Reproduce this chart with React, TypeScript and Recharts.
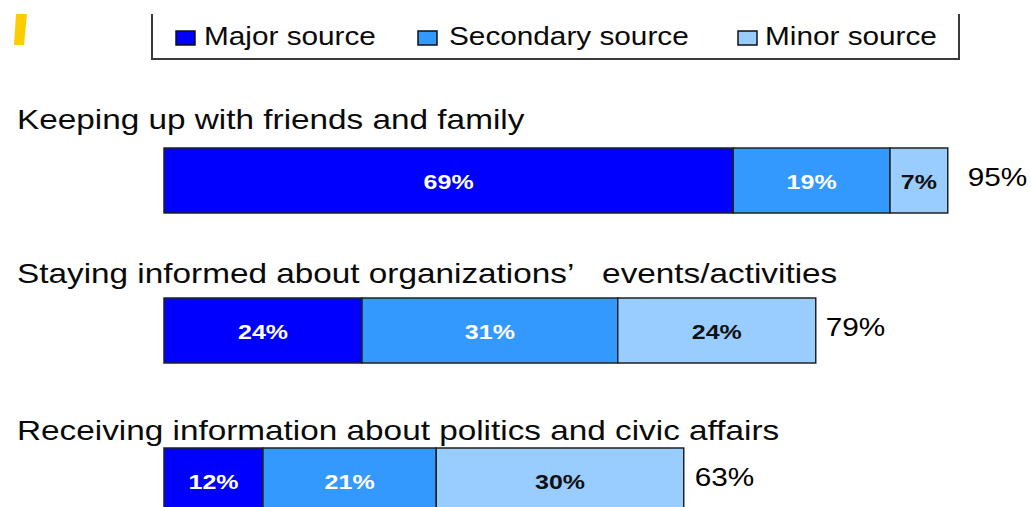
import React from 'react';
import { BarChart, Bar, XAxis, YAxis, Legend, LabelList } from 'recharts';

const categories = [
  'Keeping up with friends and family',
  'Staying informed about organizations\u2019\u00a0\u00a0 events/activities',
  'Receiving information about politics and civic affairs',
];
const majorValues = [69, 24, 12];
const secondaryValues = [19, 31, 21];
const minorValues = [7, 24, 30];
const totalLabels = ['95%', '79%', '63%'];
const seriesNames = ['Major source', 'Secondary source', 'Minor source'];

const rows = categories.map((name, i) => ({
  name,
  major: majorValues[i],
  secondary: secondaryValues[i],
  minor: minorValues[i],
  total: totalLabels[i],
}));

const COLORS = ['#0000FF', '#3399FF', '#99CCFF'];
const FONT = '"Liberation Sans", Arial, Helvetica, sans-serif';
const SX = 1.19;
const TITLE_DY = [-51, -47, -40];
const TOTAL_DX = [20, 10, 11];
const LEG_SQ_X = [176, 418, 738];
const LEG_TX_X = [204, 449, 765];

function StretchText(props: any) {
  const { x, y, size, weight, fill, anchor, children } = props;
  return (
    <g transform={`translate(${x},${y}) scale(${SX},1)`}>
      <text
        x={0}
        y={0}
        fontSize={size}
        fontWeight={weight || 'normal'}
        fill={fill || '#111'}
        textAnchor={anchor || 'start'}
        fontFamily={FONT}
      >
        {children}
      </text>
    </g>
  );
}

const TitleTick = (props: any) => {
  const { y, payload } = props;
  let idx = props.index;
  if (idx === undefined) idx = categories.indexOf(payload.value);
  return (
    <StretchText x={17} y={y + (TITLE_DY[idx] ?? -46)} size={28} fill="#0a0a0a">
      {payload.value}
    </StretchText>
  );
};

const makeInnerLabel = (color: string) => (p: any) => {
  const { x, y, width, height, value } = p;
  if (value === undefined || value === null) return null;
  return (
    <StretchText
      x={Number(x) + Number(width) / 2}
      y={Number(y) + Number(height) / 2 + 8}
      size={21}
      weight="bold"
      fill={color}
      anchor="middle"
    >
      {`${value}%`}
    </StretchText>
  );
};

const TotalLabel = (p: any) => {
  const { x, y, width, height, value } = p;
  let idx = p.index;
  if (idx === undefined) idx = totalLabels.indexOf(value);
  return (
    <StretchText
      x={Number(x) + Number(width) + (TOTAL_DX[idx] ?? 10)}
      y={Number(y) + Number(height) / 2 + 5}
      size={25}
      fill="#000"
    >
      {value}
    </StretchText>
  );
};

const renderLegend = (props: any) => {
  const payload = (props && props.payload) || [];
  const items = seriesNames.map((n, i) => {
    const found = payload.find((e: any) => e.value === n);
    return { name: n, color: (found && found.color) || COLORS[i] };
  });
  return (
    <svg width={1031} height={62} style={{ display: 'block' }}>
      <polygon points="16,14 27,14 24,45 14,45" fill="#FFCC00" />
      <polyline points="152,14 152,59 959,59 959,14" fill="none" stroke="#3a3a3a" strokeWidth={2} />
      {items.map((it, i) => (
        <g key={it.name}>
          <rect x={LEG_SQ_X[i]} y={31} width={19} height={14} fill={it.color} stroke="#111" strokeWidth={1.5} />
          <StretchText x={LEG_TX_X[i]} y={45} size={25} fill="#0a0a0a">
            {it.name}
          </StretchText>
        </g>
      ))}
    </svg>
  );
};

export default function App() {
  return (
    <div
      style={{
        position: 'absolute',
        left: 0,
        top: 0,
        width: 1031,
        height: 507,
        overflow: 'hidden',
        background: '#fff',
      }}
    >
      <BarChart
        width={1031}
        height={555}
        data={rows}
        layout="vertical"
        margin={{ top: 105, right: 42, bottom: 0, left: 0 }}
        barSize={65}
      >
        <XAxis type="number" domain={[0, 100]} hide />
        <YAxis
          type="category"
          dataKey="name"
          width={164}
          axisLine={false}
          tickLine={false}
          tick={<TitleTick />}
          interval={0}
        />
        <Legend
          layout="horizontal"
          verticalAlign="middle"
          align="center"
          content={renderLegend}
          wrapperStyle={{ top: 0, left: 0, width: 1031, height: 62 }}
        />
        <Bar dataKey="major" name={seriesNames[0]} stackId="s" fill={COLORS[0]} stroke="#222" strokeWidth={1.5} isAnimationActive={false}>
          <LabelList dataKey="major" content={makeInnerLabel('#ffffff')} />
        </Bar>
        <Bar dataKey="secondary" name={seriesNames[1]} stackId="s" fill={COLORS[1]} stroke="#222" strokeWidth={1.5} isAnimationActive={false}>
          <LabelList dataKey="secondary" content={makeInnerLabel('#ffffff')} />
        </Bar>
        <Bar dataKey="minor" name={seriesNames[2]} stackId="s" fill={COLORS[2]} stroke="#222" strokeWidth={1.5} isAnimationActive={false}>
          <LabelList dataKey="minor" content={makeInnerLabel('#111111')} />
          <LabelList dataKey="total" content={TotalLabel} />
        </Bar>
      </BarChart>
    </div>
  );
}
